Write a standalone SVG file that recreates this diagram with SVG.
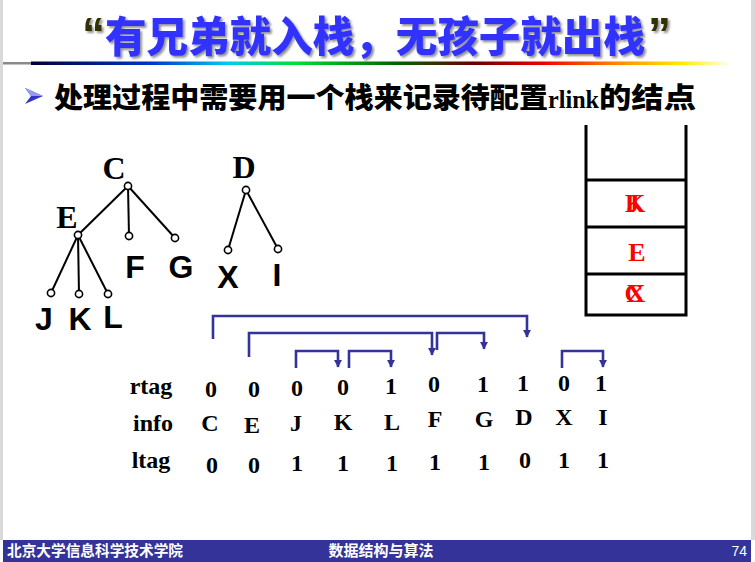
<svg xmlns="http://www.w3.org/2000/svg" width="755" height="562" viewBox="0 0 755 562">
<defs>
<linearGradient id="rule" x1="0" y1="0" x2="1" y2="0">
<stop offset="0" stop-color="#000033"/>
<stop offset="0.17" stop-color="#0033cc"/>
<stop offset="0.28" stop-color="#00ccee"/>
<stop offset="0.38" stop-color="#00dd33"/>
<stop offset="0.52" stop-color="#006600"/>
<stop offset="0.63" stop-color="#660000"/>
<stop offset="0.73" stop-color="#ee0000"/>
<stop offset="0.85" stop-color="#ff9900"/>
<stop offset="0.93" stop-color="#ffee00"/>
<stop offset="1" stop-color="#ffffff"/>
</linearGradient>
<filter id="shadow" x="-5%" y="-20%" width="110%" height="150%">
<feDropShadow dx="2" dy="2" stdDeviation="1" flood-color="#777" flood-opacity="0.8"/>
</filter>
<marker id="ah" viewBox="0 0 10 10" refX="9" refY="5" markerWidth="3.2" markerHeight="3.2" orient="auto" markerUnits="strokeWidth">
<path d="M0,0 L10,5 L0,10 Z" fill="#333399"/>
</marker>
<style>
.title{font-family:"Noto Sans CJK SC","Liberation Sans",sans-serif;font-weight:900;font-size:42px;fill:#3333ff}
.quote{font-family:"Liberation Sans",sans-serif;font-weight:bold;font-size:46px;fill:#333300}
.sub{font-family:"Noto Sans CJK SC",sans-serif;font-weight:900;font-size:28px;fill:#000}
.serifb{font-family:"Liberation Serif",serif;font-weight:bold}
.sansb{font-family:"Liberation Sans",sans-serif;font-weight:bold}
.tl{font-size:32px;fill:#000}
.tbl{font-family:"Liberation Serif",serif;font-weight:bold;font-size:24px;fill:#000;text-anchor:middle}
.edge{stroke:#000;stroke-width:2;fill:none}
.nd{fill:#fff;stroke:#000;stroke-width:1.6}
.conn{stroke:#333399;stroke-width:2.6;fill:none;marker-end:url(#ah)}
.stk{stroke:#000;stroke-width:3;fill:none}
.sl{font-family:"Liberation Serif",serif;font-weight:bold;font-size:26px;fill:#ff0000;text-anchor:middle}
.foot{font-family:"Noto Sans CJK SC",sans-serif;font-weight:bold;font-size:15px;fill:#fff}
</style>
</defs>
<rect width="755" height="562" fill="#fff"/>
<rect x="0" y="0" width="3" height="540" fill="#d9d9d9"/>
<rect x="751" y="0" width="4" height="540" fill="#d9d9d9"/>

<g id="title" filter="url(#shadow)">
<text x="82" y="50" class="quote">“</text>
<text x="105" y="52" class="title" textLength="540" lengthAdjust="spacingAndGlyphs">有兄弟就入栈，无孩子就出栈</text>
<text x="648" y="50" class="quote">”</text>
</g>
<rect x="3" y="62" width="28" height="2.5" fill="#8a8a8a"/>
<rect x="31" y="61.5" width="701" height="3.5" fill="url(#rule)"/>

<g id="subtitle">
<polygon points="25,88 43,96 25,104 31,96" fill="#3333cc"/>
<polygon points="25,88 43,96 31,96" fill="#9999ee"/>
<text x="54" y="108" class="sub"><tspan textLength="494" lengthAdjust="spacingAndGlyphs">处理过程中需要用一个栈来记录待配置</tspan><tspan font-size="26" font-weight="bold" style="font-family:'Liberation Serif',serif" textLength="51" lengthAdjust="spacingAndGlyphs">rlink</tspan><tspan textLength="97" lengthAdjust="spacingAndGlyphs">的结点</tspan></text>
</g>

<g id="tree-edges">
<line class="edge" x1="128" y1="186" x2="78" y2="235"/>
<line class="edge" x1="128" y1="186" x2="129" y2="236"/>
<line class="edge" x1="128" y1="186" x2="175" y2="238"/>
<line class="edge" x1="78" y1="235" x2="51" y2="293"/>
<line class="edge" x1="78" y1="235" x2="79" y2="294"/>
<line class="edge" x1="78" y1="235" x2="108" y2="294"/>
<line class="edge" x1="246" y1="190" x2="228" y2="250"/>
<line class="edge" x1="246" y1="190" x2="278" y2="249"/>
</g>
<g id="node-C"><circle class="nd" cx="128" cy="186" r="3.6"/><text x="114" y="179" class="serifb tl" text-anchor="middle">C</text></g>
<g id="node-E"><circle class="nd" cx="78" cy="235" r="3.6"/><text x="67" y="228" class="serifb tl" text-anchor="middle">E</text></g>
<g id="node-F"><circle class="nd" cx="129" cy="236" r="3.6"/><text x="135" y="278" class="sansb tl" font-size="30" text-anchor="middle">F</text></g>
<g id="node-G"><circle class="nd" cx="175" cy="238" r="3.6"/><text x="181" y="278" class="sansb tl" font-size="30" text-anchor="middle">G</text></g>
<g id="node-J"><circle class="nd" cx="51" cy="293" r="3.6"/><text x="44" y="330" class="sansb tl" font-size="30" text-anchor="middle">J</text></g>
<g id="node-K"><circle class="nd" cx="79" cy="294" r="3.6"/><text x="80" y="330" class="sansb tl" font-size="30" text-anchor="middle">K</text></g>
<g id="node-L"><circle class="nd" cx="108" cy="294" r="3.6"/><text x="113" y="328" class="sansb tl" font-size="30" text-anchor="middle">L</text></g>
<g id="node-D"><circle class="nd" cx="246" cy="190" r="3.6"/><text x="244" y="178" class="serifb tl" text-anchor="middle">D</text></g>
<g id="node-X"><circle class="nd" cx="228" cy="250" r="3.6"/><text x="228" y="288" class="sansb tl" font-size="30" text-anchor="middle">X</text></g>
<g id="node-I"><circle class="nd" cx="278" cy="249" r="3.6"/><text x="277" y="286" class="sansb tl" font-size="30" text-anchor="middle">I</text></g>

<g id="stack">
<path class="stk" d="M586,125 V315 H686 V125"/>
<line class="stk" x1="586" y1="180" x2="686" y2="180"/>
<line class="stk" x1="586" y1="227" x2="686" y2="227"/>
<line class="stk" x1="586" y1="274" x2="686" y2="274"/>
<text x="633" y="212" class="sl">J</text>
<text x="635" y="212" class="sl">K</text>
<text x="637" y="261" class="sl">E</text>
<text x="634" y="302" class="sl">C</text>
<text x="636" y="302" class="sl">X</text>
</g>

<g id="connectors">
<path class="conn" d="M213,339 V316 H527 V337"/>
<path class="conn" d="M249,357 V333 H432 V355"/>
<path class="conn" d="M296,368 V351 H338 V367"/>
<path class="conn" d="M349,368 V351 H391 V367"/>
<path class="conn" d="M437,350 V333 H484 V349"/>
<path class="conn" d="M562,368 V351 H603 V367"/>
</g>

<g id="table">
<text x="151" y="394" class="tbl">rtag</text>
<text x="153" y="431" class="tbl">info</text>
<text x="151" y="468" class="tbl">ltag</text>
<g id="rtag-row">
<text x="211" y="397" class="tbl">0</text>
<text x="254" y="397" class="tbl">0</text>
<text x="297" y="396" class="tbl">0</text>
<text x="343" y="395" class="tbl">0</text>
<text x="391" y="394" class="tbl">1</text>
<text x="434" y="392" class="tbl">0</text>
<text x="483" y="392" class="tbl">1</text>
<text x="523" y="391" class="tbl">1</text>
<text x="564" y="391" class="tbl">0</text>
<text x="601" y="391" class="tbl">1</text>
</g>
<g id="info-row">
<text x="210" y="431" class="tbl">C</text>
<text x="252" y="433" class="tbl">E</text>
<text x="296" y="431" class="tbl">J</text>
<text x="343" y="430" class="tbl">K</text>
<text x="392" y="430" class="tbl">L</text>
<text x="435" y="427" class="tbl">F</text>
<text x="484" y="427" class="tbl">G</text>
<text x="524" y="425" class="tbl">D</text>
<text x="564" y="425" class="tbl">X</text>
<text x="603" y="425" class="tbl">I</text>
</g>
<g id="ltag-row">
<text x="212" y="473" class="tbl">0</text>
<text x="254" y="473" class="tbl">0</text>
<text x="297" y="471" class="tbl">1</text>
<text x="343" y="471" class="tbl">1</text>
<text x="392" y="471" class="tbl">1</text>
<text x="435" y="470" class="tbl">1</text>
<text x="484" y="470" class="tbl">1</text>
<text x="525" y="468" class="tbl">0</text>
<text x="564" y="468" class="tbl">1</text>
<text x="603" y="468" class="tbl">1</text>
</g>
</g>

<g id="footer">
<rect x="3" y="540" width="748" height="22" fill="#333399"/>
<text x="7" y="556" class="foot" textLength="176" lengthAdjust="spacingAndGlyphs">北京大学信息科学技术学院</text>
<text x="381" y="556" class="foot" text-anchor="middle">数据结构与算法</text>
<text x="747" y="556" font-family="Liberation Sans, sans-serif" font-size="14" fill="#fff" text-anchor="end">74</text>
</g>
</svg>
